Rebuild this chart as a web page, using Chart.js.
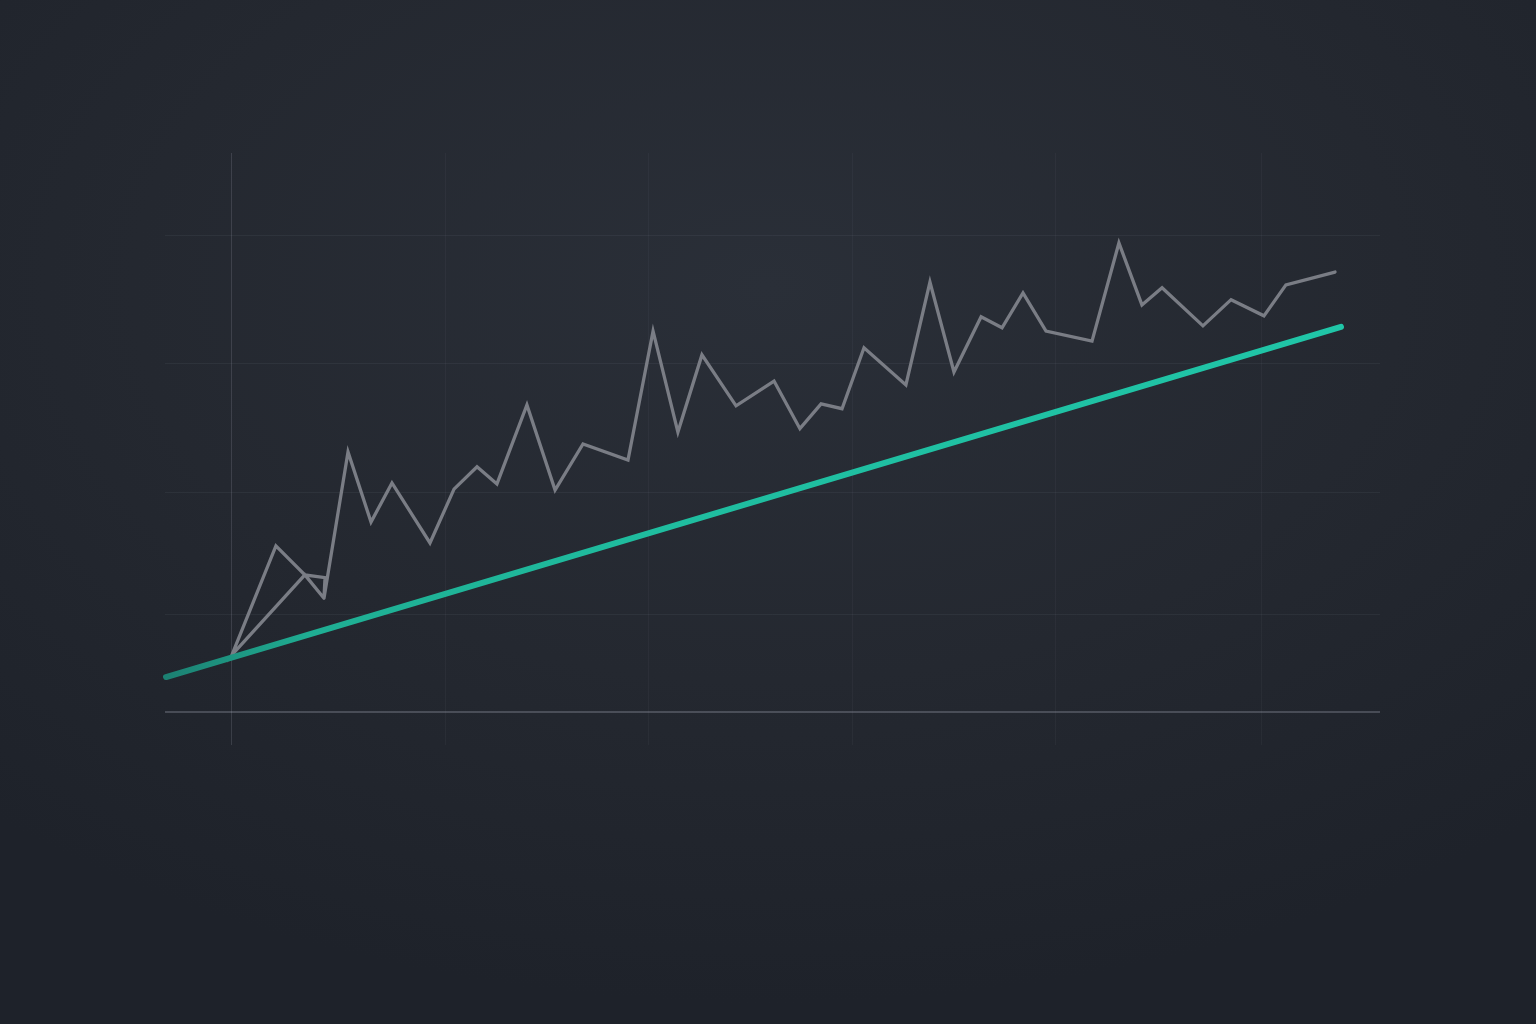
<!DOCTYPE html>
<html>
<head>
<meta charset="utf-8">
<title>Trend vs actual</title>
<script src="https://cdn.jsdelivr.net/npm/chart.js@4.4.1/dist/chart.umd.min.js"></script>
<style>
  html, body { margin: 0; padding: 0; }
  body {
    width: 1536px;
    height: 1024px;
    overflow: hidden;
    background: radial-gradient(ellipse 75% 70% at 50% 28%, #2a2f38 0%, #242830 55%, #1e222a 100%);
  }
  #trendChart { display: block; }
</style>
</head>
<body>
<canvas id="trendChart" width="1536" height="1024"></canvas>
<script>
// ========== DATA ==========
// actual (gray) series, x = period, y = value, in drawing order
const actualX = [4.48, 3.55, 0, 2.14, 3.55, 4.53, 4.48, 5.65, 6.77, 7.79, 9.64, 10.81, 11.93, 12.90,
  14.36, 15.73, 17.09, 19.28, 20.50, 21.71, 22.88, 24.54, 26.39, 27.65, 28.68, 29.70, 30.77, 32.81,
  33.98, 35.15, 36.47, 37.49, 38.51, 39.63, 41.87, 43.18, 44.30, 45.28, 47.27, 48.64, 50.24, 51.31, 53.70];
const actualY = [23.9, 28.8, 12.0, 34.9, 28.8, 28.2, 23.9, 54.6, 39.9, 48.1, 35.5, 46.8, 51.5, 47.9,
  64.5, 46.6, 56.3, 52.9, 80.0, 58.8, 75.0, 64.3, 69.5, 59.5, 64.7, 63.7, 76.5, 68.7,
  90.3, 71.4, 83.0, 80.7, 88.0, 80.0, 77.9, 98.5, 85.5, 89.1, 81.1, 86.6, 83.2, 89.7, 92.4];

// trend (teal) line
const trendX = [-3.21, 53.99];
const trendY = [7.35, 80.9];

// grid positions
const xTicks = [0, 10.4, 20.3, 30.2, 40.1, 50.1];
const yTicks = [0, 20.4, 46.2, 73.1, 100];

const toPoints = (xs, ys) => xs.map((x, i) => ({ x: x, y: ys[i] }));

function trendGradient(context) {
  const { ctx, chartArea } = context.chart;
  if (!chartArea) return '#1fc0a2';
  const g = ctx.createLinearGradient(chartArea.left, 0, chartArea.right, 0);
  g.addColorStop(0, '#1c8072');
  g.addColorStop(0.12, '#1fae93');
  g.addColorStop(0.4, '#1fbd9f');
  g.addColorStop(1, '#20c6a8');
  return g;
}

// ========== LINE CHART: Trend vs Actual ==========
const trendChart = new Chart(document.getElementById('trendChart'), {
  type: 'scatter',
  data: {
    datasets: [{
      label: 'Actual',
      data: toPoints(actualX, actualY),
      showLine: true,
      borderColor: '#7a7d85',
      borderWidth: 3.3,
      borderJoinStyle: 'miter',
      borderCapStyle: 'round',
      pointRadius: 0,
      tension: 0,
      order: 2
    }, {
      label: 'Trend',
      data: toPoints(trendX, trendY),
      showLine: true,
      clip: false,
      borderColor: trendGradient,
      borderWidth: 6,
      borderCapStyle: 'round',
      pointRadius: 0,
      order: 1
    }]
  },
  options: {
    responsive: false,
    animation: false,
    layout: {
      padding: { left: 165, right: 156, top: 153, bottom: 279 }
    },
    plugins: {
      legend: { display: false },
      tooltip: { enabled: false }
    },
    scales: {
      x: {
        type: 'linear',
        min: -3.26,
        max: 55.89,
        afterBuildTicks: (scale) => { scale.ticks = xTicks.map(v => ({ value: v })); },
        ticks: { display: false },
        border: { display: false },
        grid: {
          drawTicks: false,
          color: (c) => c.tick && c.tick.value === 0 ? 'rgba(190,195,210,0.16)' : 'rgba(170,180,200,0.05)',
          lineWidth: 1
        }
      },
      y: {
        type: 'linear',
        min: -6.93,
        max: 117.4,
        afterBuildTicks: (scale) => { scale.ticks = yTicks.map(v => ({ value: v })); },
        ticks: { display: false },
        border: { display: false },
        grid: {
          drawTicks: false,
          color: (c) => c.tick && c.tick.value === 0 ? 'rgba(190,195,210,0.25)' : 'rgba(170,180,200,0.07)',
          lineWidth: (c) => c.tick && c.tick.value === 0 ? 2 : 1
        }
      }
    }
  }
});
</script>
</body>
</html>
